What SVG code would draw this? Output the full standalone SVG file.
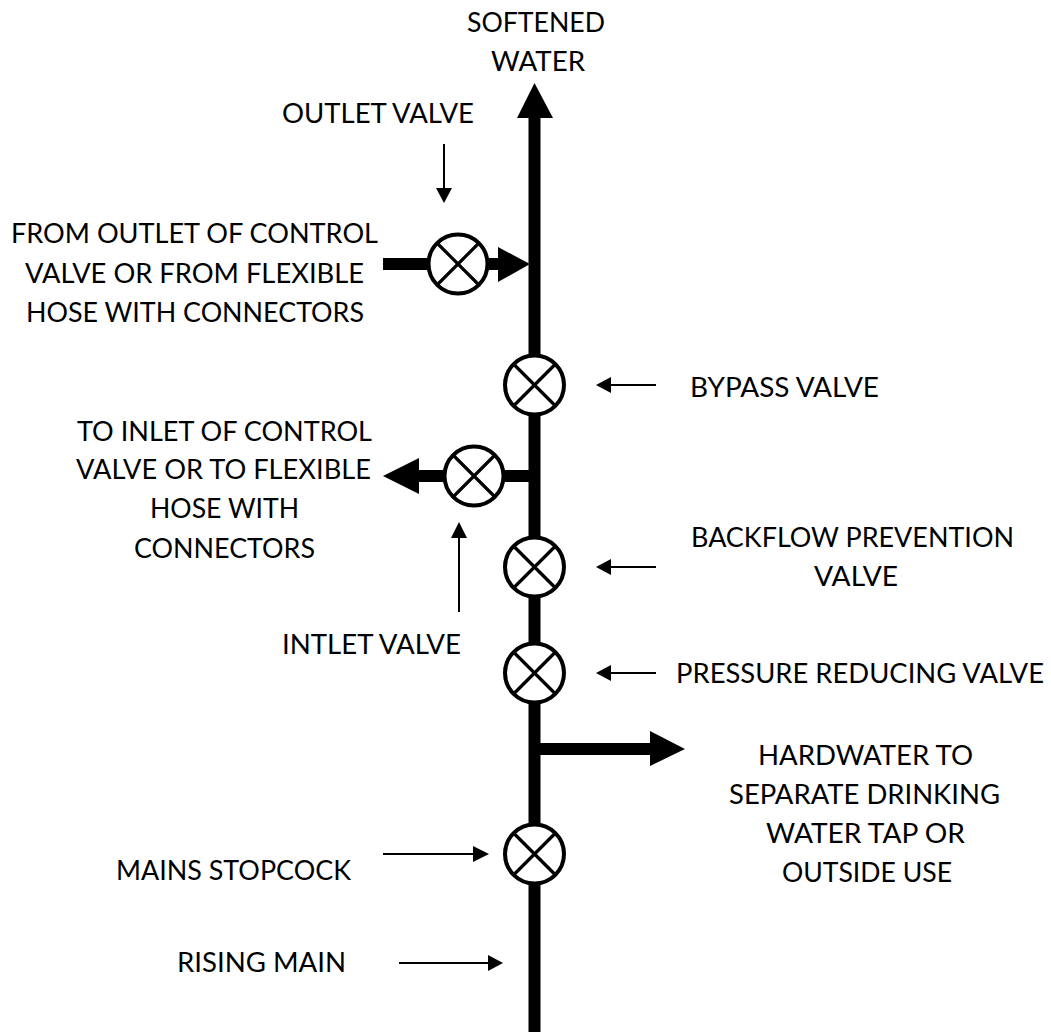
<svg xmlns="http://www.w3.org/2000/svg" width="1051" height="1032" viewBox="0 0 1051 1032">
<style>
text{font-family:"Lato","Open Sans","Liberation Sans",sans-serif;font-size:27px;fill:#000;text-anchor:start}
.vs circle{fill:#fff;stroke:#000;stroke-width:4}
.vs path{stroke:#000;stroke-width:3.2;fill:none}
.p{stroke:#000;stroke-width:12;fill:none}
.t{stroke:#000;stroke-width:2;fill:none}
</style>
<defs>
<g id="vv" class="vs"><circle r="29.5"/><path d="M-21-21L21 21M-21 21L21-21"/></g>
</defs>
<rect width="1051" height="1032" fill="#fff"/>
<g id="connectors">
<path class="p" d="M534.5 1032V110"/>
<path d="M534.5 83L517 118H553Z"/>
<path class="p" d="M383 264H500"/>
<path d="M530 264L498 247V282Z"/>
<path class="p" d="M534 476H415"/>
<path d="M383 476L419 458V494Z"/>
<path class="p" d="M534 749H655"/>
<path d="M685 749L650 731V766Z"/>
<path class="t" d="M444 144V190"/><path d="M444 203L436 188H452Z"/>
<path class="t" d="M656 385H609"/><path d="M596 385L611 377V393Z"/>
<path class="t" d="M459 612V536"/><path d="M459 522L451 538H467Z"/>
<path class="t" d="M656 567H609"/><path d="M596 567L611 559V575Z"/>
<path class="t" d="M656 673H609"/><path d="M596 673L611 665V681Z"/>
<path class="t" d="M383 854H476"/><path d="M489 854L473 846V862Z"/>
<path class="t" d="M399 963H490"/><path d="M503 963L488 955V971Z"/>
</g>
<g id="outlet-valve"><use href="#vv" x="458" y="264"/></g>
<g id="bypass-valve"><use href="#vv" x="534.5" y="385"/></g>
<g id="inlet-valve"><use href="#vv" x="474" y="476"/></g>
<g id="backflow-valve"><use href="#vv" x="534.5" y="567"/></g>
<g id="pressure-valve"><use href="#vv" x="534.5" y="673"/></g>
<g id="mains-stopcock"><use href="#vv" x="534.5" y="854"/></g>
<g id="labels">
<text x="467" y="32" textLength="138" lengthAdjust="spacingAndGlyphs">SOFTENED</text>
<text x="491" y="71" textLength="94" lengthAdjust="spacingAndGlyphs">WATER</text>
<text x="282" y="123" textLength="192" lengthAdjust="spacingAndGlyphs">OUTLET VALVE</text>
<text x="11" y="243" textLength="367" lengthAdjust="spacingAndGlyphs">FROM OUTLET OF CONTROL</text>
<text x="25" y="283" textLength="339" lengthAdjust="spacingAndGlyphs">VALVE OR FROM FLEXIBLE</text>
<text x="26" y="322" textLength="338" lengthAdjust="spacingAndGlyphs">HOSE WITH CONNECTORS</text>
<text x="690" y="397" textLength="189" lengthAdjust="spacingAndGlyphs">BYPASS VALVE</text>
<text x="77" y="441" textLength="295" lengthAdjust="spacingAndGlyphs">TO INLET OF CONTROL</text>
<text x="76" y="479" textLength="295" lengthAdjust="spacingAndGlyphs">VALVE OR TO FLEXIBLE</text>
<text x="150" y="518" textLength="149" lengthAdjust="spacingAndGlyphs">HOSE WITH</text>
<text x="134" y="558" textLength="181" lengthAdjust="spacingAndGlyphs">CONNECTORS</text>
<text x="691" y="547" textLength="323" lengthAdjust="spacingAndGlyphs">BACKFLOW PREVENTION</text>
<text x="814" y="586" textLength="84" lengthAdjust="spacingAndGlyphs">VALVE</text>
<text x="282" y="654" textLength="179" lengthAdjust="spacingAndGlyphs">INTLET VALVE</text>
<text x="676" y="683" textLength="368" lengthAdjust="spacingAndGlyphs">PRESSURE REDUCING VALVE</text>
<text x="758" y="765" textLength="215" lengthAdjust="spacingAndGlyphs">HARDWATER TO</text>
<text x="729" y="804" textLength="271" lengthAdjust="spacingAndGlyphs">SEPARATE DRINKING</text>
<text x="766" y="843" textLength="199" lengthAdjust="spacingAndGlyphs">WATER TAP OR</text>
<text x="782" y="882" textLength="170" lengthAdjust="spacingAndGlyphs">OUTSIDE USE</text>
<text x="116" y="880" textLength="235" lengthAdjust="spacingAndGlyphs">MAINS STOPCOCK</text>
<text x="177" y="972" textLength="169" lengthAdjust="spacingAndGlyphs">RISING MAIN</text>
</g>
</svg>
